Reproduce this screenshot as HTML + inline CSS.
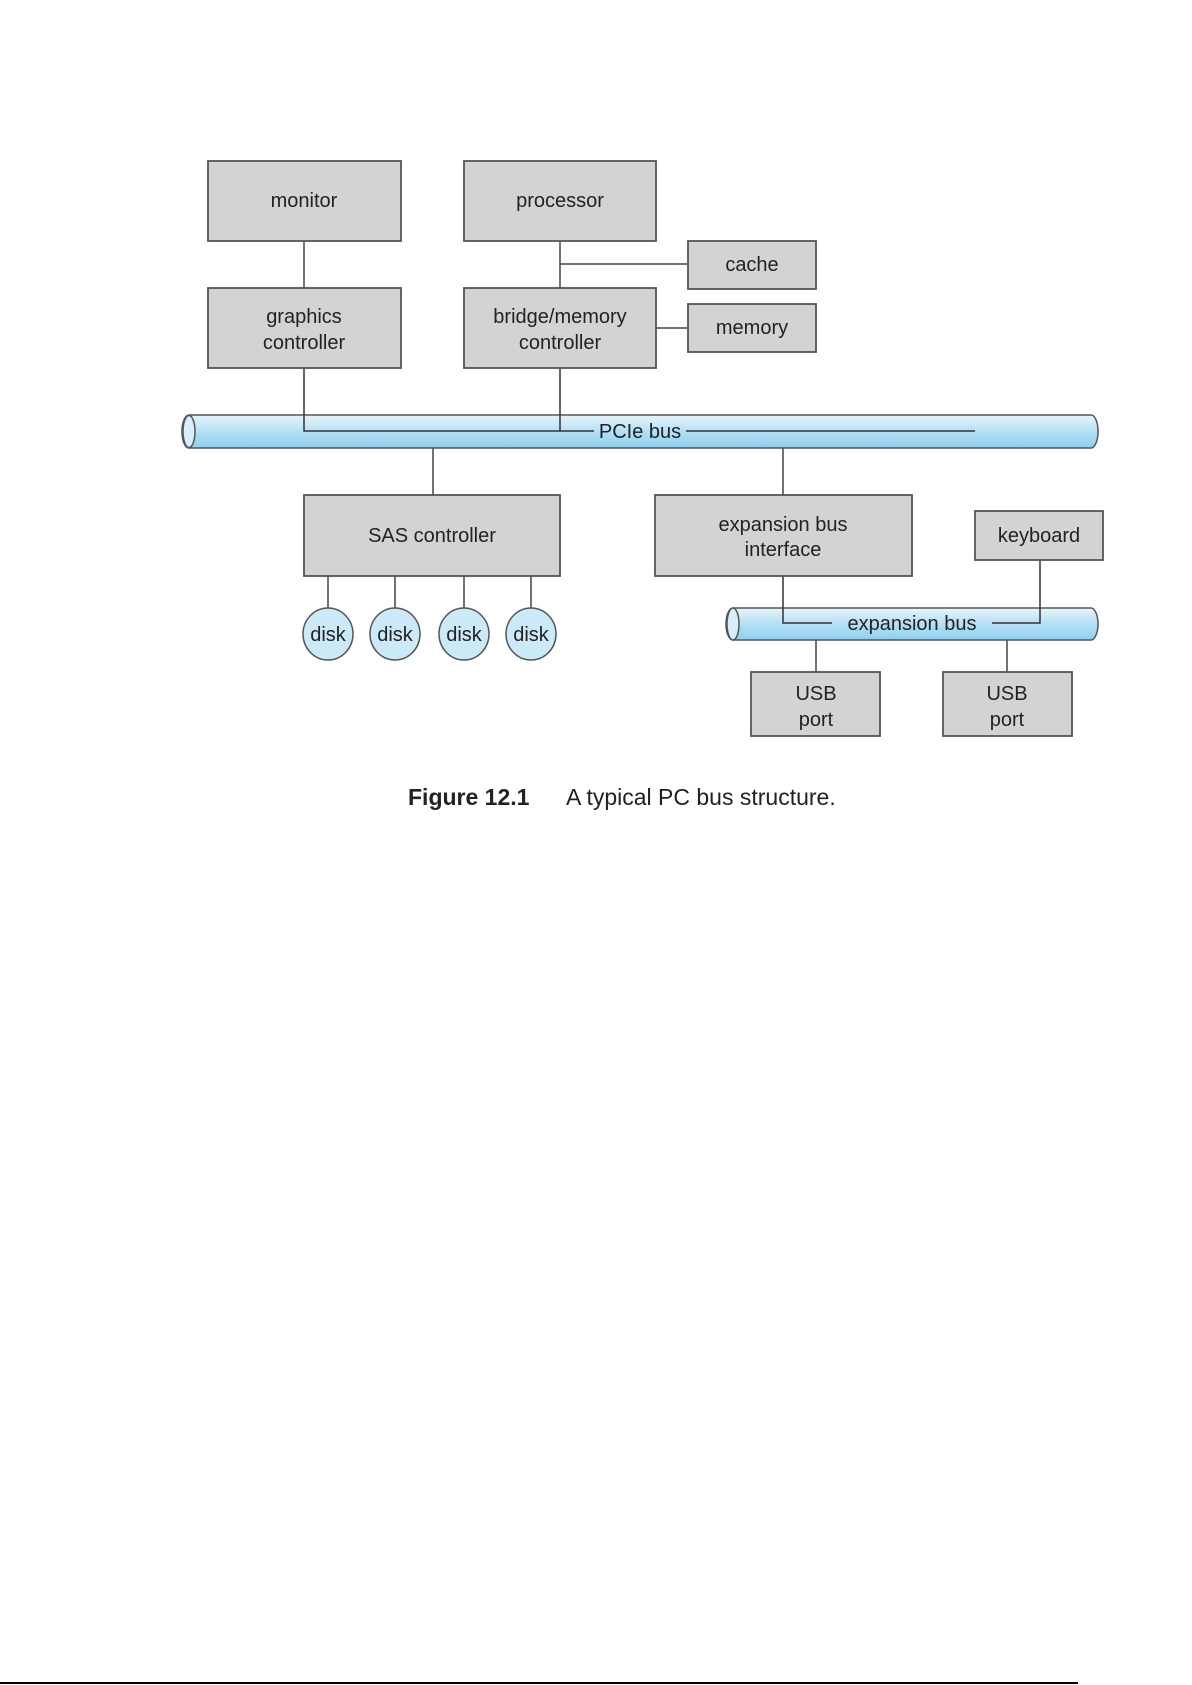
<!DOCTYPE html>
<html><head><meta charset="utf-8"><style>
html,body{margin:0;padding:0;background:#fff;}
svg{display:block}
text{font-family:"Liberation Sans",sans-serif;fill:#222;}
</style></head><body>
<svg width="1192" height="1685" viewBox="0 0 1192 1685" xmlns="http://www.w3.org/2000/svg">
<defs>
<linearGradient id="bg" x1="0" y1="0" x2="0" y2="1">
<stop offset="0" stop-color="#e6f5fc"/><stop offset="0.5" stop-color="#b5e0f4"/><stop offset="1" stop-color="#8ccfee"/>
</linearGradient>
</defs>
<g stroke="#444" stroke-width="1.5" fill="none">
<!-- connectors -->
<line x1="304" y1="241" x2="304" y2="288"/>
<line x1="560" y1="241" x2="560" y2="288"/>
<line x1="560" y1="264" x2="687" y2="264"/>
<line x1="656" y1="328" x2="687" y2="328"/>
<line x1="433" y1="431" x2="433" y2="495"/>
<line x1="783" y1="431" x2="783" y2="495"/>
<line x1="328" y1="576" x2="328" y2="608"/>
<line x1="395" y1="576" x2="395" y2="608"/>
<line x1="464" y1="576" x2="464" y2="608"/>
<line x1="531" y1="576" x2="531" y2="608"/>
<line x1="816" y1="623" x2="816" y2="672"/>
<line x1="1007" y1="623" x2="1007" y2="672"/>
</g>
<!-- PCIe bus -->
<rect x="182" y="415" width="916" height="33" rx="7" ry="16" fill="url(#bg)" stroke="#555" stroke-width="1.5"/>
<ellipse cx="189" cy="431.5" rx="6" ry="16" fill="#d8eff9" stroke="#555" stroke-width="1.5"/>
<g stroke="#333" stroke-width="1.5" fill="none">
<polyline points="304,368 304,431 594,431"/>
<line x1="560" y1="368" x2="560" y2="431"/>
<line x1="686" y1="431" x2="975" y2="431"/>
</g>
<text x="640" y="438" font-size="20" text-anchor="middle">PCIe bus</text>
<!-- expansion bus -->
<rect x="726" y="608" width="372" height="32" rx="7" ry="16" fill="url(#bg)" stroke="#555" stroke-width="1.5"/>
<ellipse cx="733" cy="624" rx="6" ry="16" fill="#d8eff9" stroke="#555" stroke-width="1.5"/>
<g stroke="#333" stroke-width="1.5" fill="none">
<polyline points="783,576 783,623 832,623"/>
<polyline points="992,623 1040,623 1040,560"/>
</g>
<text x="912" y="630" font-size="20" text-anchor="middle">expansion bus</text>
<!-- boxes -->
<g fill="#d3d3d3" stroke="#555" stroke-width="1.8">
<rect x="208" y="161" width="193" height="80"/>
<rect x="464" y="161" width="192" height="80"/>
<rect x="688" y="241" width="128" height="48"/>
<rect x="208" y="288" width="193" height="80"/>
<rect x="464" y="288" width="192" height="80"/>
<rect x="688" y="304" width="128" height="48"/>
<rect x="304" y="495" width="256" height="81"/>
<rect x="655" y="495" width="257" height="81"/>
<rect x="975" y="511" width="128" height="49"/>
<rect x="751" y="672" width="129" height="64"/>
<rect x="943" y="672" width="129" height="64"/>
</g>
<g fill="#cbe9f7" stroke="#555" stroke-width="1.5">
<ellipse cx="328" cy="634" rx="25" ry="26"/>
<ellipse cx="395" cy="634" rx="25" ry="26"/>
<ellipse cx="464" cy="634" rx="25" ry="26"/>
<ellipse cx="531" cy="634" rx="25" ry="26"/>
</g>
<g font-size="20" text-anchor="middle">
<text x="304" y="207">monitor</text>
<text x="560" y="207">processor</text>
<text x="752" y="271">cache</text>
<text x="304" y="323">graphics</text>
<text x="304" y="349">controller</text>
<text x="560" y="323">bridge/memory</text>
<text x="560" y="349">controller</text>
<text x="752" y="334">memory</text>
<text x="432" y="542">SAS controller</text>
<text x="783" y="531">expansion bus</text>
<text x="783" y="556">interface</text>
<text x="1039" y="542">keyboard</text>
<text x="816" y="700">USB</text>
<text x="816" y="726">port</text>
<text x="1007" y="700">USB</text>
<text x="1007" y="726">port</text>
<text x="328" y="641">disk</text>
<text x="395" y="641">disk</text>
<text x="464" y="641">disk</text>
<text x="531" y="641">disk</text>
</g>
<text x="408" y="805" font-size="23" font-weight="bold">Figure 12.1</text>
<text x="566" y="805" font-size="23">A typical PC bus structure.</text>
<line x1="0" y1="1683" x2="1078" y2="1683" stroke="#000" stroke-width="2"/>
</svg>
</body></html>
